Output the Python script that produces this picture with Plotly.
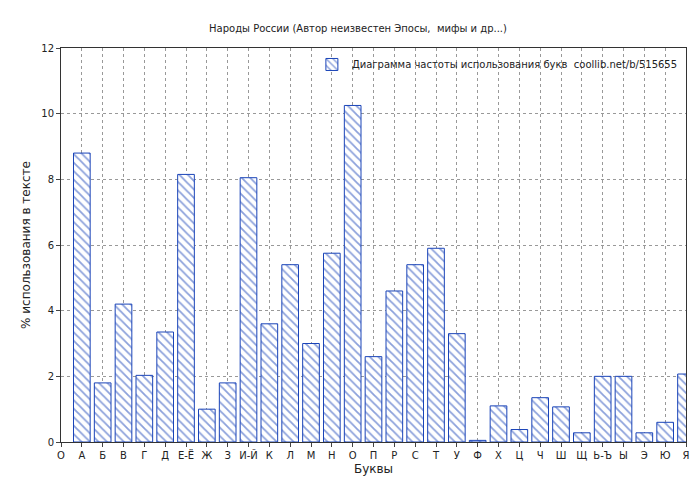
import plotly.graph_objects as go

letters = ["А","Б","В","Г","Д","Е-Ё","Ж","З","И-Й","К","Л","М","Н","О","П","Р","С","Т","У","Ф","Х","Ц","Ч","Ш","Щ","Ь-Ъ","Ы","Э","Ю","Я"]
values = [8.8,1.8,4.2,2.03,3.35,8.15,1.0,1.8,8.05,3.6,5.4,3.0,5.75,10.25,2.6,4.6,5.4,5.9,3.3,0.05,1.1,0.38,1.35,1.07,0.28,2.0,2.0,0.28,0.6,2.07]
tick_labels = ["О"] + letters

xs = list(range(1, len(letters)+1))
fig = go.Figure(go.Bar(
    x=xs, y=values, width=0.8,
    name="Диаграмма частоты использования букв  coollib.net/b/515655",
    marker=dict(color="white", line=dict(color="#1a44b8", width=1),
                pattern=dict(shape="\\", fgcolor="#1a44b8", size=6, solidity=0.3)),
))
grid = dict(showgrid=True, gridcolor="#999999", griddash="dot", gridwidth=1)
fig.update_layout(
    width=700, height=480, paper_bgcolor="white", plot_bgcolor="white",
    margin=dict(l=53, r=22, t=40, b=46, autoexpand=False),
    font=dict(family="DejaVu Sans", size=10, color="#222"),
    title=dict(text="Народы России (Автор неизвестен Эпосы,  мифы и др...)", x=0.5, y=0.965, xanchor="center", font=dict(size=10)),
    showlegend=True,
    legend=dict(x=0.995, y=0.995, xanchor="right", yanchor="top", bgcolor="rgba(255,255,255,0)", font=dict(size=10)),
    xaxis=dict(range=[0, 30], tickmode="array", tickvals=list(range(0, 31)), ticktext=tick_labels,
               title=dict(text="Буквы", standoff=4), showline=True, linecolor="#333", mirror=True,
               ticks="outside", ticklen=4, automargin=False, **grid),
    yaxis=dict(range=[0, 12], dtick=2, title=dict(text="% использования в тексте", standoff=8), showline=True,
               linecolor="#333", mirror=True, ticks="outside", ticklen=4, zeroline=False, automargin=False, **grid),
)
fig.write_html("out.html")
